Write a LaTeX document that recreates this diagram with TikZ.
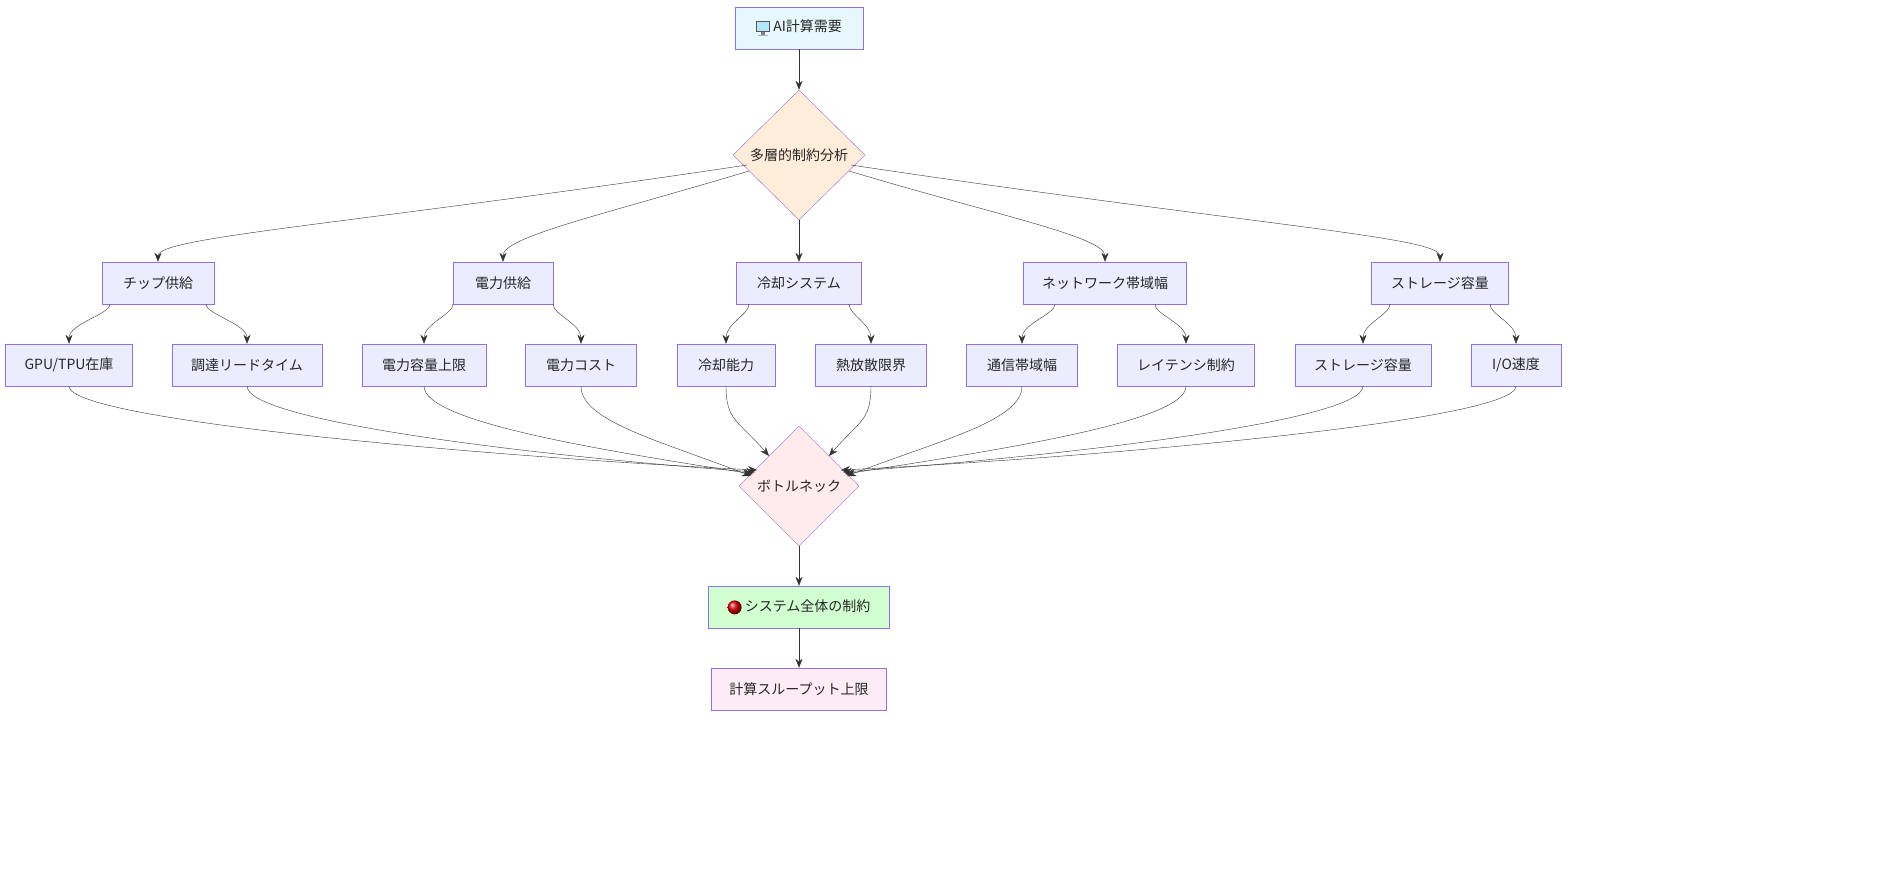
\documentclass[tikz,border=0pt]{standalone}
\usepackage{fontspec}
\setmainfont{Noto Sans CJK JP}
\usetikzlibrary{arrows.meta,shapes.geometric}
\definecolor{nodefill}{HTML}{ECECFF}
\definecolor{nodeline}{HTML}{9370DB}
\definecolor{edgeline}{HTML}{333333}
\newcommand{\monitoricon}{\tikz[baseline=-1pt,x=1pt,y=1pt]{\fill[gray!70!black] (-7,-2) rectangle (7,9); \fill[cyan!30!white] (-6,-1) rectangle (6,8); \fill[gray] (-2,-2) rectangle (2,-5); \fill[gray!60] (-5,-6) rectangle (5,-5);}}
\newcommand{\reddot}{\tikz[baseline=-4pt,x=1pt,y=1pt]{\shade[ball color=red!85!black] (0,0) circle (7);}}
\begin{document}
\begin{tikzpicture}[x=1pt,y=-1pt,
    font=\fontsize{14}{16}\selectfont, text=black!85,
    block/.style={rectangle, draw=nodeline, fill=nodefill, minimum height=42pt, inner sep=0pt},
    decision/.style={diamond, draw=nodeline, aspect=1, inner sep=0pt},
    edge/.style={draw=edgeline, -{Stealth[length=9pt,width=7pt]}}]
    \useasboundingbox (0,0) rectangle (1904,872);
    % Top
    \node [block, fill=cyan!10, minimum width=128pt] (demand) at (799,28) {\monitoricon\ AI計算需要};
    \node [decision, fill=orange!15, minimum width=132pt, minimum height=130pt] (analysis) at (799,155) {多層的制約分析};
    \draw[edge] (demand) -- (analysis);
    % Layers
    \node [block, minimum width=112pt] (chip) at (158,283) {チップ供給};
    \node [block, minimum width=100pt] (power) at (503,283) {電力供給};
    \node [block, minimum width=125pt] (cool) at (799,283) {冷却システム};
    \node [block, minimum width=163pt] (net) at (1105,283) {ネットワーク帯域幅};
    \node [block, minimum width=137pt] (store) at (1440,283) {ストレージ容量};
    \draw[edge] ([shift={(-52,10)}]analysis.center) .. controls +(-400,60) and +(0,-25) .. (chip.north);
    \draw[edge] ([shift={(-50,16)}]analysis.center) .. controls +(-150,45) and +(0,-25) .. (power.north);
    \draw[edge] (analysis) -- (cool);
    \draw[edge] ([shift={(50,16)}]analysis.center) .. controls +(150,45) and +(0,-25) .. (net.north);
    \draw[edge] ([shift={(52,10)}]analysis.center) .. controls +(400,60) and +(0,-25) .. (store.north);
    % Factors
    \node [block, minimum width=127pt] (gpu) at (69,365) {GPU/TPU在庫};
    \node [block, minimum width=150pt] (lead) at (247,365) {調達リードタイム};
    \node [block, minimum width=124pt] (cap) at (424,365) {電力容量上限};
    \node [block, minimum width=111pt] (cost) at (581,365) {電力コスト};
    \node [block, minimum width=98pt] (coolcap) at (726,365) {冷却能力};
    \node [block, minimum width=111pt] (heat) at (871,365) {熱放散限界};
    \node [block, minimum width=111pt] (bw) at (1022,365) {通信帯域幅};
    \node [block, minimum width=137pt] (lat) at (1186,365) {レイテンシ制約};
    \node [block, minimum width=136pt] (cap2) at (1363,365) {ストレージ容量};
    \node [block, minimum width=90pt] (io) at (1516,365) {I/O速度};
    \foreach \grp/\l/\r/\dl/\dr in {chip/gpu/lead/-48/48, power/cap/cost/-50/50, cool/coolcap/heat/-50/50, net/bw/lat/-50/50, store/cap2/io/-50/50}{
        \draw[edge] ([xshift=\dl pt]\grp.south) .. controls +(0,10) and +(0,-20) .. (\l.north);
        \draw[edge] ([xshift=\dr pt]\grp.south) .. controls +(0,10) and +(0,-20) .. (\r.north);
    }
    % Bottleneck
    \node [decision, fill=red!8, minimum width=120pt, minimum height=120pt] (neck) at (799,486) {ボトルネック};
    \foreach \src/\ex/\ey/\cx/\cy in {gpu/-42/-16/-250/-12, lead/-44/-14/-220/-16, cap/-46/-12/-160/-25, cost/-48/-10/-90/-35, coolcap/-30/-30/-30/-35,
        heat/30/-30/30/-35, bw/48/-10/90/-35, lat/46/-12/160/-25, cap2/44/-14/220/-16, io/42/-16/250/-12}
        \draw[edge] (\src.south) .. controls +(0,35) and +(\cx,\cy) .. ([shift={(\ex,\ey)}]neck.center);
    % Result
    \node [block, fill=green!18, minimum width=181pt] (system) at (799,607) {\reddot\ システム全体の制約};
    \node [block, fill=magenta!8, minimum width=175pt] (limit) at (799,689) {計算スループット上限};
    \draw[edge] (neck) -- (system);
    \draw[edge] (system) -- (limit);
\end{tikzpicture}
\end{document}
